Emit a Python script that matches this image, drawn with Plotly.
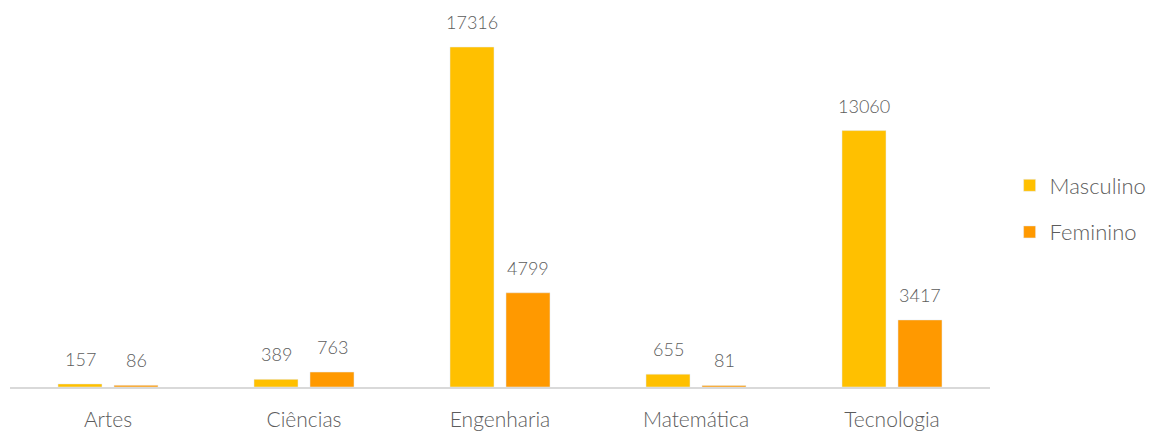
import plotly.graph_objects as go

categories = ["Artes", "Ciências", "Engenharia", "Matemática", "Tecnologia"]
masculino = [157, 389, 17316, 655, 13060]
feminino = [86, 763, 4799, 81, 3417]

FONT = "'Lato Light', Lato, sans-serif"
TEXT_COLOR = "#5c5c5c"

fig = go.Figure()
fig.add_trace(go.Bar(name="Masculino", x=categories, y=masculino,
                     marker_color="#FFC000", legendgroup="m"))
fig.add_trace(go.Bar(name="Feminino", x=categories, y=feminino,
                     marker_color="#FF9900", legendgroup="f"))

# value labels above each bar
for vals, off in ((masculino, -0.5), (feminino, 0.5)):
    for i, v in enumerate(vals):
        fig.add_annotation(x=i + off * 0.2857, y=v, xref="x", yref="y",
                           text=str(v), showarrow=False, yanchor="bottom",
                           yshift=12, font=dict(family=FONT, size=18, color=TEXT_COLOR))

fig.update_layout(
    width=1160, height=432,
    margin=dict(l=10, r=170, t=20, b=45, autoexpand=False),
    paper_bgcolor="white", plot_bgcolor="white",
    barmode="group", bargap=0.4286, bargroupgap=0.214,
    font=dict(family=FONT, color=TEXT_COLOR),
    legend=dict(x=1.02, y=0.485, xanchor="left", yanchor="middle",
                font=dict(family=FONT, size=22, color=TEXT_COLOR),
                tracegroupgap=15, itemwidth=30),
    xaxis=dict(showline=True, linecolor="#D9D9D9", linewidth=2,
               showgrid=False, ticks="", ticklabelstandoff=13,
               automargin=False,
               tickfont=dict(family=FONT, size=21, color=TEXT_COLOR)),
    yaxis=dict(range=[0, 18691], visible=False, showgrid=False),
)

fig.write_html("out.html")
